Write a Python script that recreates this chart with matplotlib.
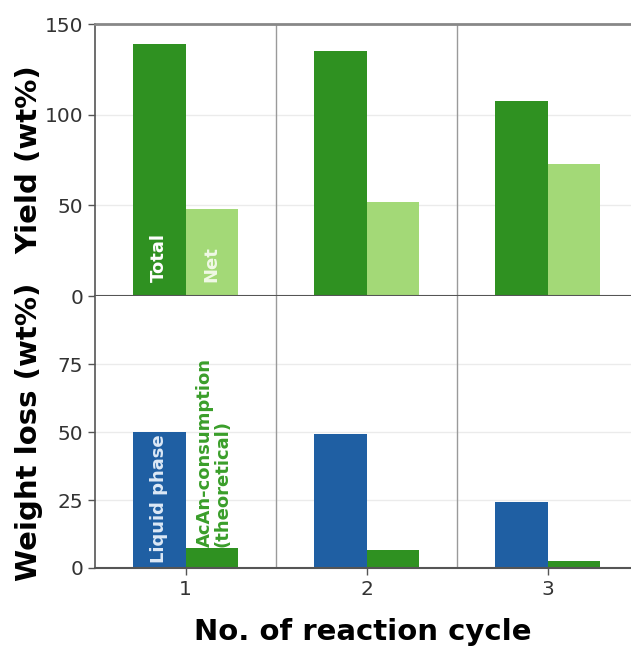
import matplotlib.pyplot as plt
import numpy as np

plt.rcParams['font.family'] = 'DejaVu Sans'

# Data
cycles = [1, 2, 3]
yield_total = [139, 135, 107.5]
yield_net = [48, 52, 73]
loss_liquid = [50, 49.3, 24.3]
loss_acan = [7.4, 6.6, 2.6]

dark_green = '#2f9121'
light_green = '#a3d977'
blue = '#1f5fa3'
bw = 0.29

fig = plt.figure(figsize=(6.31, 6.51), dpi=100)
ax1 = fig.add_axes([0.1506, 0.5453, 0.8494, 0.4178])
ax2 = fig.add_axes([0.1506, 0.1275, 0.8494, 0.4178])

x = np.array(cycles)

# Top panel: yield
ax1.bar(x - bw / 2, yield_total, width=bw, color=dark_green, zorder=2)
ax1.bar(x + bw / 2, yield_net, width=bw, color=light_green, zorder=2)
ax1.set_ylim(0, 150)
ax1.set_yticks([0, 50, 100, 150])
ax1.set_ylabel('Yield (wt%)', fontsize=21, fontweight='bold')
ax1.text(1 - bw / 2, 8, 'Total', rotation=90, ha='center', va='bottom',
         color='white', fontsize=13, fontweight='bold', zorder=3)
ax1.text(1 + bw / 2, 8, 'Net', rotation=90, ha='center', va='bottom',
         color='#f0f9e6', fontsize=13, fontweight='bold', zorder=3)

# Bottom panel: weight loss
ax2.bar(x - bw / 2, loss_liquid, width=bw, color=blue, zorder=2)
ax2.bar(x + bw / 2, loss_acan, width=bw, color=dark_green, zorder=2)
ax2.set_ylim(0, 100)
ax2.set_yticks([0, 25, 50, 75])
ax2.set_ylabel('Weight loss (wt%)', fontsize=21, fontweight='bold')
ax2.set_xticks(cycles)
ax2.set_xlabel('No. of reaction cycle', fontsize=21, fontweight='bold', labelpad=14)
ax2.text(1 - bw / 2, 1.8, 'Liquid phase', rotation=90, ha='center', va='bottom',
         color='#dde9f6', fontsize=13, fontweight='bold', zorder=3)
ax2.text(1 + bw / 2 + 0.01, loss_acan[0] + 0.3, 'AcAn-consumption\n(theoretical)',
         rotation=90, ha='center', va='bottom', multialignment='left',
         color='#3a9e2a', fontsize=13, fontweight='bold', zorder=3, linespacing=1.0)

for ax in (ax1, ax2):
    ax.set_xlim(0.5, 3.461)
    ax.yaxis.set_label_coords(-0.097, 0.5)
    ax.grid(axis='y', color='#ebebeb', linewidth=1, zorder=0)
    ax.set_axisbelow(True)
    for xv in (1.5, 2.5):
        ax.axvline(xv, color='#9a9a9a', linewidth=1, zorder=1)
    ax.spines['right'].set_visible(False)
    ax.spines['left'].set_color('#555555')
    ax.spines['bottom'].set_color('#555555')
    ax.spines['left'].set_linewidth(1.2)
    ax.spines['bottom'].set_linewidth(1.5)
    ax.tick_params(axis='both', labelsize=14.5, labelcolor='#333333',
                   color='#555555', length=5, width=1, direction='out')

ax1.spines['top'].set_color('#888888')
ax1.spines['top'].set_linewidth(2)
ax1.tick_params(axis='x', bottom=False, labelbottom=False)
ax2.spines['top'].set_visible(False)

fig.savefig('out.png', dpi=100)
